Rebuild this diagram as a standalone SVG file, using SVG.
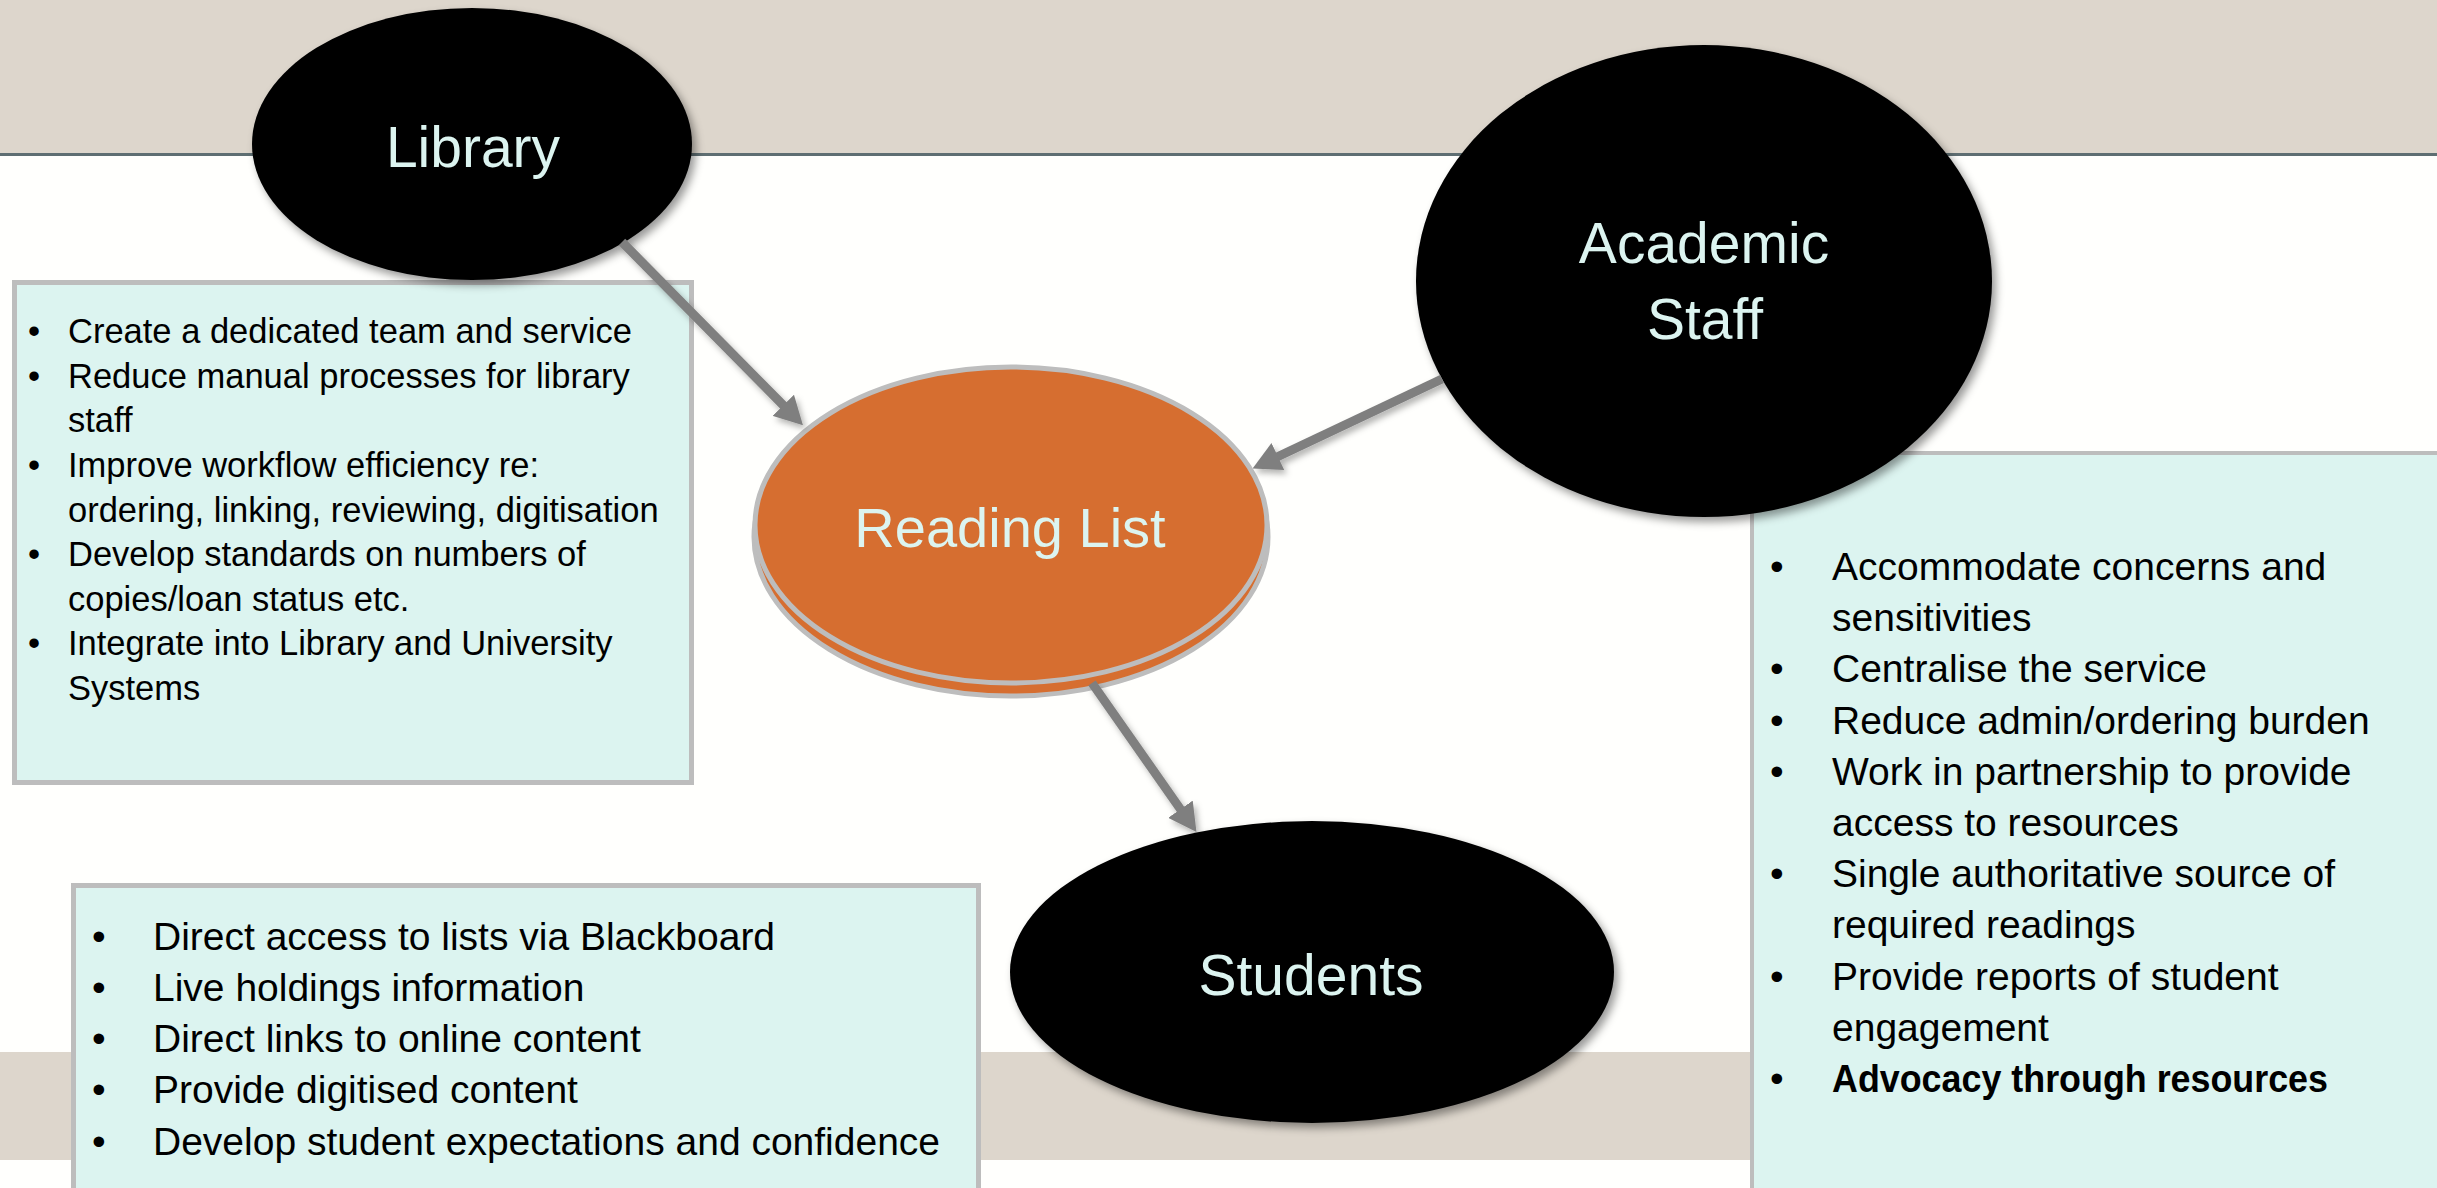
<svg xmlns="http://www.w3.org/2000/svg" width="2437" height="1188" viewBox="0 0 2437 1188">
<defs>
<style>
.band{fill:#DDD6CC}
.box{fill:#DCF4F0;stroke:#BDBDBD;stroke-width:5}
.node{fill:#000;filter:url(#sh)}
.lbl{font-family:"Liberation Sans",Arial,sans-serif;font-size:57px;fill:#DCF4F0;text-anchor:middle}
.t1{font-family:"Liberation Sans",Arial,sans-serif;font-size:34.5px;fill:#000}
.t2{font-family:"Liberation Sans",Arial,sans-serif;font-size:39px;fill:#000}
.conn{stroke:#7F7F7F;stroke-width:9;fill:none;marker-end:url(#ah)}
</style>
<filter id="sh" x="-20%" y="-20%" width="140%" height="140%">
<feDropShadow dx="4" dy="5" stdDeviation="4" flood-color="#000" flood-opacity="0.4"/>
</filter>
<filter id="ash" x="-20%" y="-20%" width="140%" height="140%">
<feDropShadow dx="3" dy="4" stdDeviation="3" flood-color="#000" flood-opacity="0.3"/>
</filter>
<marker id="ah" markerUnits="userSpaceOnUse" viewBox="0 0 28 30" markerWidth="28" markerHeight="30" refX="1" refY="15" orient="auto">
<path d="M0,0 L28,15 L0,30 z" fill="#7F7F7F"/>
</marker>
</defs>
<rect x="0" y="0" width="2437" height="1188" fill="#FFFFFD"/>
<rect class="band" x="0" y="0" width="2437" height="153"/>
<rect x="0" y="153" width="2437" height="3" fill="#5E6E72"/>
<rect class="band" x="0" y="1052" width="2437" height="108"/>

<g id="library-box">
<rect class="box" x="14.5" y="282.5" width="677" height="500"/>
<text class="t1" x="28" y="343">•</text><text class="t1" x="68" y="343">Create a dedicated team and service</text>
<text class="t1" x="28" y="388">•</text><text class="t1" x="68" y="388">Reduce manual processes for library</text>
<text class="t1" x="68" y="432">staff</text>
<text class="t1" x="28" y="477">•</text><text class="t1" x="68" y="477">Improve workflow efficiency re:</text>
<text class="t1" x="68" y="522">ordering, linking, reviewing, digitisation</text>
<text class="t1" x="28" y="566">•</text><text class="t1" x="68" y="566">Develop standards on numbers of</text>
<text class="t1" x="68" y="611">copies/loan status etc.</text>
<text class="t1" x="28" y="655">•</text><text class="t1" x="68" y="655">Integrate into Library and University</text>
<text class="t1" x="68" y="700">Systems</text>
</g>

<g id="students-box">
<rect class="box" x="73.5" y="885.5" width="905" height="400"/>
<text class="t2" x="92" y="950">•</text><text class="t2" x="153" y="950">Direct access to lists via Blackboard</text>
<text class="t2" x="92" y="1001">•</text><text class="t2" x="153" y="1001">Live holdings information</text>
<text class="t2" x="92" y="1052">•</text><text class="t2" x="153" y="1052">Direct links to online content</text>
<text class="t2" x="92" y="1103">•</text><text class="t2" x="153" y="1103">Provide digitised content</text>
<text class="t2" x="92" y="1155">•</text><text class="t2" x="153" y="1155">Develop student expectations and confidence</text>
</g>

<g id="academic-box">
<rect class="box" x="1752" y="453" width="800" height="800" style="stroke-width:4"/>
<text class="t2" x="1770" y="580">•</text><text class="t2" x="1832" y="580">Accommodate concerns and</text>
<text class="t2" x="1832" y="631">sensitivities</text>
<text class="t2" x="1770" y="682">•</text><text class="t2" x="1832" y="682">Centralise the service</text>
<text class="t2" x="1770" y="734">•</text><text class="t2" x="1832" y="734">Reduce admin/ordering burden</text>
<text class="t2" x="1770" y="785">•</text><text class="t2" x="1832" y="785">Work in partnership to provide</text>
<text class="t2" x="1832" y="836">access to resources</text>
<text class="t2" x="1770" y="887">•</text><text class="t2" x="1832" y="887">Single authoritative source of</text>
<text class="t2" x="1832" y="938">required readings</text>
<text class="t2" x="1770" y="990">•</text><text class="t2" x="1832" y="990">Provide reports of student</text>
<text class="t2" x="1832" y="1041">engagement</text>
<text class="t2" x="1770" y="1092">•</text><text class="t2" x="1832" y="1092" font-weight="bold" textLength="496" lengthAdjust="spacingAndGlyphs">Advocacy through resources</text>
</g>

<g id="library">
<ellipse class="node" cx="472" cy="144" rx="220" ry="136"/>
<text class="lbl" x="473" y="167">Library</text>
</g>

<g id="academic-staff">
<ellipse class="node" cx="1704" cy="281" rx="288" ry="236"/>
<text class="lbl" x="1704" y="263">Academic</text>
<text class="lbl" x="1705" y="339">Staff</text>
</g>

<g id="reading-list">
<ellipse cx="1011" cy="537" rx="257" ry="159" fill="#D66E30" stroke="#BDBDBD" stroke-width="5"/>
<ellipse cx="1011" cy="525" rx="256" ry="158" fill="#D66E30" stroke="#BDBDBD" stroke-width="5"/>
<text class="lbl" x="1010" y="547" style="font-size:56px">Reading List</text>
</g>

<g id="students">
<ellipse class="node" cx="1312" cy="972" rx="302" ry="151"/>
<text class="lbl" x="1311" y="995">Students</text>
</g>

<g id="connectors" filter="url(#ash)">
<line class="conn" x1="622" y1="242" x2="784" y2="406"/>
<line class="conn" x1="1442" y1="379" x2="1277" y2="457"/>
<line class="conn" x1="1092" y1="683" x2="1181" y2="810"/>
</g>
</svg>
